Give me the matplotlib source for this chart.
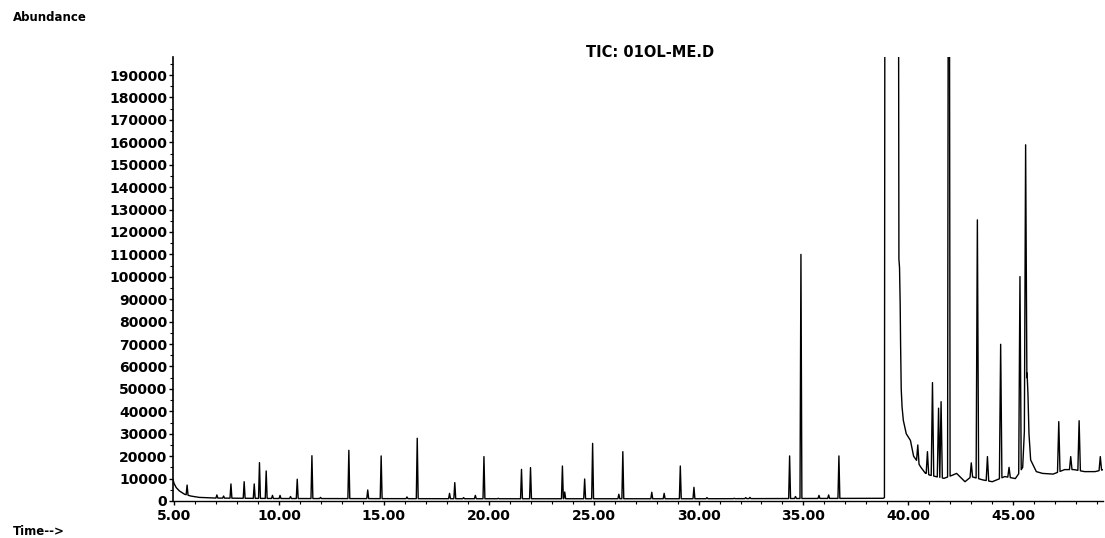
import numpy as np
import matplotlib
matplotlib.use("Agg")
import matplotlib.pyplot as plt
from matplotlib.ticker import MultipleLocator, FuncFormatter

# baseline knots of the TIC trace (min, abundance)
base_t = [4.95, 5.00, 5.10, 5.25, 5.50, 5.80, 6.20, 7.00, 10.00, 20.00, 30.00, 38.80,
          38.86, 38.90, 39.50, 39.55, 39.58, 39.61, 39.63, 39.66, 39.70, 39.76, 39.90,
          40.10, 40.25, 40.40, 40.60, 40.80, 41.00, 41.30, 41.70, 42.10, 42.30, 42.70,
          43.00, 43.55, 44.00, 44.60, 45.10, 45.25, 45.45, 45.66, 45.70, 45.75, 45.83,
          46.10, 46.40, 46.90, 47.45, 47.90, 48.40, 48.90, 49.30]
base_a = [9500, 7800, 6000, 4500, 3000, 2200, 1600, 1300, 1100, 1000, 1000, 1200,
          1500, 450000, 450000, 108000, 104000, 88000, 70000, 50000, 42000, 36000, 30000,
          27000, 20000, 18000, 15000, 12500, 11600, 10900, 10100, 11500, 12300, 8600,
          10900, 9400, 8600, 10900, 10000, 12000, 15000, 57000, 48000, 30000, 18300,
          13100, 12300, 12000, 14000, 14000, 13100, 13100, 14000]

# peaks: retention time (min) and apex abundance
peak_t = [5.62, 7.04, 7.36, 7.71, 8.34, 8.82, 9.07, 9.39, 9.69, 10.05, 10.55, 10.87,
          11.57, 11.98, 13.33, 14.23, 14.87, 16.10, 16.59, 18.13, 18.38, 18.80, 19.36,
          19.77, 20.45, 21.56, 21.99, 23.51, 23.62, 24.57, 24.95, 26.20, 26.39, 27.77,
          28.36, 29.13, 29.78, 30.40, 31.70, 32.25, 32.45, 34.34, 34.62, 34.88, 35.74,
          36.20, 36.69,
          40.45, 40.91, 41.15, 41.44, 41.56, 41.93, 43.00, 43.29, 43.77, 44.40, 44.80,
          45.32, 45.59, 47.17, 47.74, 48.14, 49.15]
peak_a = [7100, 2700, 2200, 7600, 8600, 7600, 17100, 13400, 2500, 2500, 2000, 9700,
          20200, 1600, 22600, 4900, 20100, 1800, 28000, 3400, 8200, 1500, 2500,
          19800, 1200, 14100, 14900, 15600, 4000, 9800, 25700, 3000, 22000, 3900,
          3400, 15600, 6100, 1500, 1200, 1500, 1600, 20100, 2000, 110000, 2500,
          2700, 20100,
          25000, 22000, 52800, 41400, 44300, 450000, 17000, 125400, 19800, 69900, 15000,
          100100, 158900, 35400, 19800, 35800, 19800]


def build_trace():
    bt = np.array(base_t)
    ba = np.array(base_a)
    pts = []
    pt = np.array(peak_t)
    for t, a in zip(bt, ba):
        w = 0.06 if t > 39 else 0.045
        if np.all(np.abs(pt - t) > w):
            pts.append((t, a))
    for t, a in zip(peak_t, peak_a):
        w = 0.06 if t > 39 else 0.045
        for tt, aa in ((t - w, None), (t, a), (t + w, None)):
            if aa is None:
                aa = np.interp(tt, bt, ba)
            pts.append((tt, aa))
    pts.sort(key=lambda p: p[0])
    return np.array(pts)


trace = build_trace()

fig = plt.figure(figsize=(11.05, 5.38), dpi=100)
ax = fig.add_axes([0.1566, 0.0688, 0.842, 0.825])
ax.plot(trace[:, 0], trace[:, 1], color='black', linewidth=1.0)

ax.set_xlim(4.95, 49.3)
ax.set_ylim(0, 198000)

ax.spines['top'].set_visible(False)
ax.spines['right'].set_visible(False)
ax.spines['left'].set_linewidth(1.2)
ax.spines['bottom'].set_linewidth(1.0)

ax.xaxis.set_major_locator(MultipleLocator(5))
ax.xaxis.set_minor_locator(MultipleLocator(1))
ax.yaxis.set_major_locator(MultipleLocator(10000))
ax.yaxis.set_minor_locator(MultipleLocator(5000))
ax.xaxis.set_major_formatter(FuncFormatter(lambda v, p: "%.2f" % v))
ax.yaxis.set_major_formatter(FuncFormatter(lambda v, p: "%d" % v))

ax.tick_params(axis='both', which='major', length=3, width=1)
ax.tick_params(axis='y', which='major', pad=1)
ax.tick_params(axis='x', which='major', pad=3)
ax.tick_params(axis='both', which='minor', length=2, width=0.8)
for lab in ax.get_xticklabels() + ax.get_yticklabels():
    lab.set_fontfamily('DejaVu Sans')
    lab.set_fontweight('bold')
    lab.set_fontsize(10)

fig.text(0.012, 0.968, "Abundance", fontsize=8.5, fontweight='bold', ha='left', va='center')
fig.text(0.5885, 0.903, "TIC: 01OL-ME.D", fontsize=10.5, fontweight='bold', ha='center', va='center')
fig.text(0.012, 0.012, "Time-->", fontsize=8.5, fontweight='bold', ha='left', va='center')

fig.savefig("out.png", dpi=100)
